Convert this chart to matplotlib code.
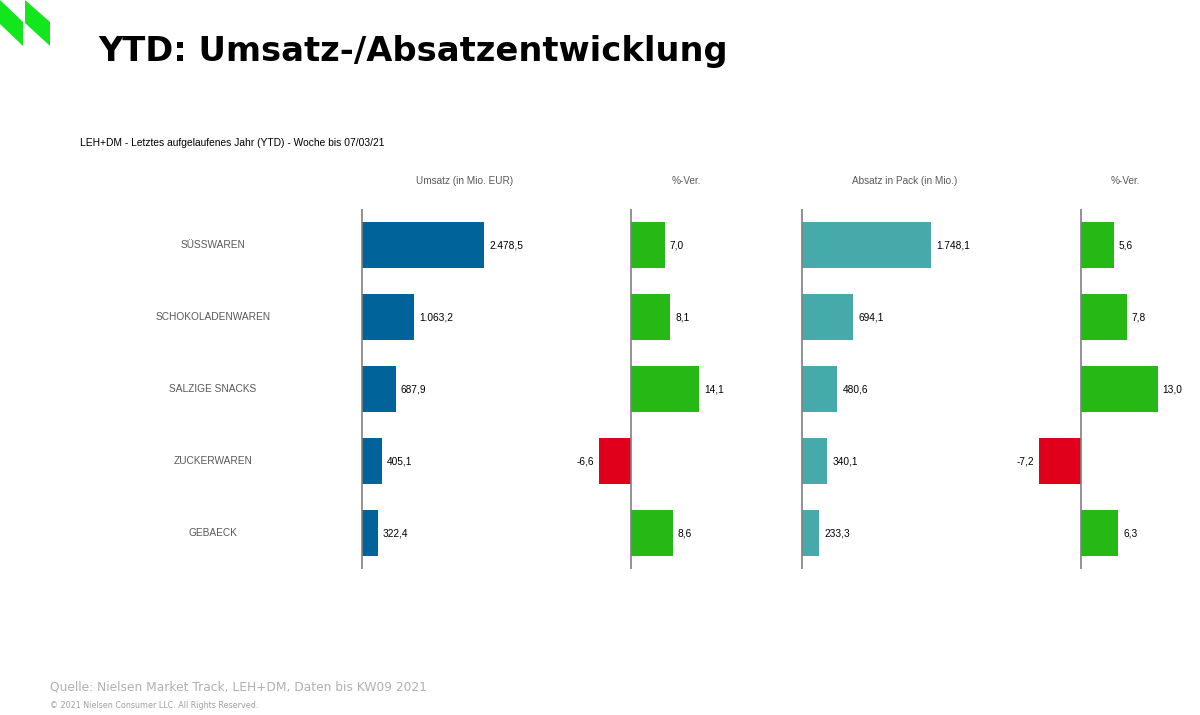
import matplotlib.pyplot as plt
import matplotlib.patches as patches
from matplotlib.transforms import blended_transform_factory
import numpy as np

# chart data
categories = ['SÜSSWAREN', 'SCHOKOLADENWAREN', 'SALZIGE SNACKS', 'ZUCKERWAREN', 'GEBAECK']
umsatz = [2478.5, 1063.2, 687.9, 405.1, 322.4]
umsatz_chg = [7.0, 8.1, 14.1, -6.6, 8.6]
absatz = [1748.1, 694.1, 480.6, 340.1, 233.3]
absatz_chg = [5.6, 7.8, 13.0, -7.2, 6.3]
headers = ['Umsatz (in Mio. EUR)', '%-Ver.', 'Absatz in Pack (in Mio.)', '%-Ver.']

W, H = 1200, 715
BLUE = '#006399'
TEAL = '#46AAAA'
GREEN = '#26B815'
RED = '#E0001B'
AXIS = '#7f7f7f'


def fx(px):
    return px / W


def fy(py):
    return 1 - py / H


def fmt(v):
    s = '{:,.1f}'.format(v)
    return s.replace(',', 'X').replace('.', ',').replace('X', '.')


fig = plt.figure(figsize=(12, 7.15), dpi=100)
fig.patch.set_facecolor('white')

# logo
for poly in ([(0, 0), (23, 22), (23, 46), (0, 24)], [(25, 0), (50, 22), (50, 46), (25, 23)]):
    pts = [(fx(x), fy(y)) for x, y in poly]
    fig.patches.append(patches.Polygon(pts, closed=True, transform=fig.transFigure,
                                       facecolor='#14E61E', edgecolor='none'))

fig.text(fx(98), fy(52), 'YTD: Umsatz-/Absatzentwicklung', fontsize=24.3, fontweight='bold',
         family='DejaVu Sans', va='center', ha='left', color='black')
fig.text(fx(80), fy(143), 'LEH+DM - Letztes aufgelaufenes Jahr (YTD) - Woche bis 07/03/21',
         fontsize=7.35, family='Liberation Sans', va='center', ha='left', color='black')

# panels: (zero line px, px per unit, left room px, right room px, values, kind, colour)
panels = [
    (362, 122 / 2478.5, 5, 230, umsatz, None, BLUE),
    (631, 34 / 7.0, 60, 120, umsatz_chg, 'chg', None),
    (802, 129 / 1748.1, 5, 230, absatz, None, TEAL),
    (1081, 33 / 5.6, 70, 118, absatz_chg, 'chg', None),
]
header_x = [465, 686, 905, 1125]

top, bottom = 209, 569
axes = []
for (zero, scale, lroom, rroom, vals, kind, col), hx, head in zip(panels, header_x, headers):
    ax = fig.add_axes([fx(zero - lroom), fy(bottom), fx(lroom + rroom), (bottom - top) / H])
    ax.set_xlim(-lroom / scale, rroom / scale)
    ax.set_ylim(4.5, -0.5)
    y = np.arange(len(vals))
    if kind == 'chg':
        colors = [GREEN if v >= 0 else RED for v in vals]
    else:
        colors = [col] * len(vals)
    ax.barh(y, vals, height=0.64, color=colors, edgecolor='none')
    ax.axvline(0, color=AXIS, lw=1.2)
    off = 5 / scale
    for yi, v in zip(y, vals):
        if v >= 0:
            ax.text(v + off, yi, fmt(v), va='center', ha='left', fontsize=7.3,
                    family='Liberation Sans', color='black')
        else:
            ax.text(v - off, yi, fmt(v), va='center', ha='right', fontsize=7.3,
                    family='Liberation Sans', color='black')
    ax.axis('off')
    fig.text(fx(hx), fy(181), head, fontsize=7.2, family='Liberation Sans',
             ha='center', va='center', color='#595959')
    axes.append(ax)

trans = blended_transform_factory(fig.transFigure, axes[0].transData)
for i, c in enumerate(categories):
    axes[0].text(fx(213), i, c, transform=trans, ha='center', va='center', fontsize=7.3,
                 family='Liberation Sans', color='#595959')

fig.text(fx(50), fy(687), 'Quelle: Nielsen Market Track, LEH+DM, Daten bis KW09 2021',
         fontsize=8.8, family='DejaVu Sans', ha='left', va='center', color='#b0b0b0')
fig.text(fx(50), fy(705), '© 2021 Nielsen Consumer LLC. All Rights Reserved.',
         fontsize=5.8, family='DejaVu Sans', ha='left', va='center', color='#a0a0a0')

fig.savefig('out.png', dpi=100, facecolor='white')
